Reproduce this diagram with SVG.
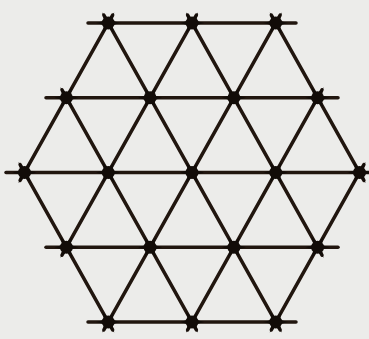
<svg xmlns="http://www.w3.org/2000/svg" xmlns:xlink="http://www.w3.org/1999/xlink" width="369" height="339" viewBox="0 0 369 339">
<style>
.e{stroke:#21160f;stroke-width:3.5;stroke-linecap:round;fill:none}
.n{fill:#120c08}
</style>
<defs>
<g id="star">
<polygon points="12,0 4,-2.3 6,-10.4 0,-4.6 -6,-10.4 -4,-2.3 -12,0 -4,2.3 -6,10.4 0,4.6 6,10.4 4,2.3"/>
<circle r="6.5"/>
</g>
</defs>
<rect width="369" height="339" fill="#ececea"/>
<g id="connectors" class="e">
<line x1="88" y1="23" x2="296" y2="23"/>
<line x1="46" y1="97.75" x2="338" y2="97.75"/>
<line x1="6" y1="172.5" x2="380" y2="172.5"/>
<line x1="46" y1="247.25" x2="338" y2="247.25"/>
<line x1="88" y1="322" x2="296" y2="322"/>
<line x1="20.1" y1="164.65" x2="112.65" y2="329.85"/>
<line x1="62" y1="89.9" x2="196.4" y2="329.85"/>
<line x1="103.85" y1="15.15" x2="280.15" y2="329.85"/>
<line x1="187.6" y1="15.15" x2="322" y2="255.1"/>
<line x1="271.35" y1="15.15" x2="363.9" y2="180.35"/>
<line x1="112.65" y1="15.15" x2="20.1" y2="180.35"/>
<line x1="196.4" y1="15.15" x2="62" y2="255.1"/>
<line x1="280.15" y1="15.15" x2="103.85" y2="329.85"/>
<line x1="322" y1="89.9" x2="187.6" y2="329.85"/>
<line x1="363.9" y1="164.65" x2="271.35" y2="329.85"/>
</g>
<g class="n">
<g id="A1"><use xlink:href="#star" x="108.25" y="23"/></g>
<g id="A2"><use xlink:href="#star" x="192" y="23"/></g>
<g id="A3"><use xlink:href="#star" x="275.75" y="23"/></g>
<g id="B1"><use xlink:href="#star" x="66.4" y="97.75"/></g>
<g id="B2"><use xlink:href="#star" x="150.1" y="97.75"/></g>
<g id="B3"><use xlink:href="#star" x="233.9" y="97.75"/></g>
<g id="B4"><use xlink:href="#star" x="317.6" y="97.75"/></g>
<g id="C1"><use xlink:href="#star" x="24.5" y="172.5"/></g>
<g id="C2"><use xlink:href="#star" x="108.25" y="172.5"/></g>
<g id="C3"><use xlink:href="#star" x="192" y="172.5"/></g>
<g id="C4"><use xlink:href="#star" x="275.75" y="172.5"/></g>
<g id="C5"><use xlink:href="#star" x="359.5" y="172.5"/></g>
<g id="D1"><use xlink:href="#star" x="66.4" y="247.25"/></g>
<g id="D2"><use xlink:href="#star" x="150.1" y="247.25"/></g>
<g id="D3"><use xlink:href="#star" x="233.9" y="247.25"/></g>
<g id="D4"><use xlink:href="#star" x="317.6" y="247.25"/></g>
<g id="E1"><use xlink:href="#star" x="108.25" y="322"/></g>
<g id="E2"><use xlink:href="#star" x="192" y="322"/></g>
<g id="E3"><use xlink:href="#star" x="275.75" y="322"/></g>
</g>
</svg>
